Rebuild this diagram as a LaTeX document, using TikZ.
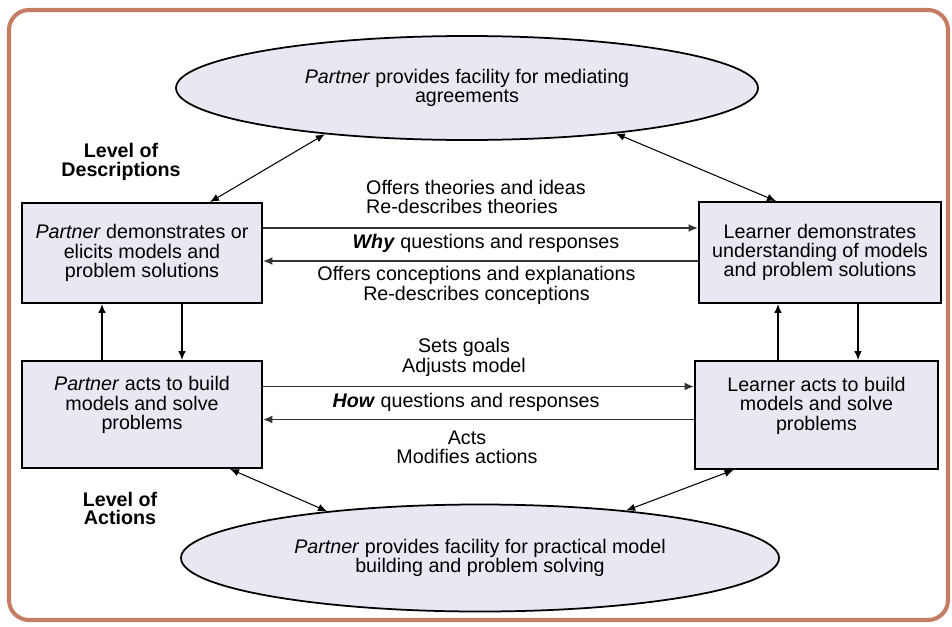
\documentclass[tikz,border=0pt]{standalone}
\usepackage{fontspec}
\setmainfont{Liberation Sans}
\usetikzlibrary{shapes.geometric,arrows.meta}

\definecolor{cornice}{RGB}{196,124,98}
\definecolor{riemp}{RGB}{232,232,243}

\tikzset{
  scatola/.style={draw,line width=1.1pt,fill=riemp,inner sep=0pt,align=center},
  ovale/.style={ellipse,draw,line width=1pt,fill=riemp,inner sep=0pt,align=center},
  freccia/.style={-{Latex[length=1.8mm,width=1.5mm]},line width=0.6pt},
  doppia/.style={{Latex[length=1.8mm,width=1.5mm]}-{Latex[length=1.8mm,width=1.5mm]},line width=0.6pt},
  flusso/.style={-{Latex[length=1.9mm,width=1.6mm]},line width=0.9pt,black!80},
}

\begin{document}
\begin{tikzpicture}[font=\fontsize{11.2}{11}\selectfont]

\useasboundingbox (0,0) rectangle (19.04,-12.52);
\draw[cornice,line width=2.3pt,rounded corners=0.4cm] (0.18,-0.2) rectangle (18.96,-12.4); % cornice

% ovali
\node[ovale,minimum width=11.64cm,minimum height=2.08cm] (sopra) at (9.34,-1.76)
  {\textit{Partner} provides facility for mediating\\agreements};
\node[ovale,minimum width=11.96cm,minimum height=2.14cm] (sotto) at (9.6,-11.16)
  {\textit{Partner} provides facility for practical model\\building and problem solving};

% scatole
\node[scatola,minimum width=4.8cm,minimum height=2cm] (pdesc) at (2.84,-5.06)
  {\textit{Partner} demonstrates or\\elicits models and\\problem solutions};
\node[scatola,minimum width=4.84cm,minimum height=2.02cm] (ldesc) at (16.4,-5.05)
  {Learner demonstrates\\understanding of models\\and problem solutions};
\node[scatola,minimum width=4.8cm,minimum height=2.14cm] (pact) at (2.84,-8.29)
  {\textit{Partner} acts to build\\models and solve\\problems\\[2pt]};
\node[scatola,minimum width=4.86cm,minimum height=2.16cm] (lact) at (16.33,-8.3)
  {Learner acts to build\\models and solve\\problems\\[2pt]};

% livelli
\node[font=\fontsize{11.2}{10.5}\selectfont\bfseries,align=center] (livd) at (2.42,-3.24) {Level of\\Descriptions};
\node[font=\fontsize{11.2}{10.5}\selectfont\bfseries,align=center] (liva) at (2.4,-10.17) {Level of\\Actions};

% verticali
\draw[freccia] ([xshift=-0.8cm]pact.north) -- ([xshift=-0.8cm]pdesc.south);
\draw[freccia] ([xshift=0.8cm]pdesc.south) -- ([xshift=0.8cm]pact.north);
\draw[freccia] ([xshift=-0.84cm]ldesc.south |- lact.north) -- ([xshift=-0.84cm]ldesc.south);
\draw[freccia] ([xshift=0.76cm]ldesc.south) -- ([xshift=0.76cm]ldesc.south |- lact.north);

% orizzontali
\draw[flusso] ([yshift=0.5cm]pdesc.east) -- ([yshift=0.5cm]pdesc.east -| ldesc.west);
\draw[flusso] ([yshift=-0.16cm]pdesc.east -| ldesc.west) -- ([yshift=-0.16cm]pdesc.east);
\draw[flusso] ([yshift=0.56cm]pact.east) -- ([yshift=0.56cm]pact.east -| lact.west);
\draw[flusso] ([yshift=-0.1cm]pact.east -| lact.west) -- ([yshift=-0.1cm]pact.east);

% ovali - scatole
\draw[doppia] (sopra.198) -- ([xshift=1.36cm]pdesc.north);
\draw[doppia] (sopra.343) -- ([xshift=-0.88cm]ldesc.north);
\draw[doppia] (sotto.163) -- ([xshift=1.76cm]pact.south);
\draw[doppia] (sotto.18) -- ([xshift=-1.66cm]lact.south);

% etichette
\node[anchor=west,align=left] (teorie) at (7.2,-3.94) {Offers theories and ideas\\Re-describes theories};
\node (why) at (9.72,-4.86) {\textbf{\textit{Why}} questions and responses};
\node[align=center] (conc) at (9.53,-5.71) {Offers conceptions and explanations\\Re-describes conceptions};
\node[align=center] (goals) at (9.28,-7.15) {Sets goals\\Adjusts model};
\node (how) at (9.32,-8.04) {\textbf{\textit{How}} questions and responses};
\node[align=center] (acts) at (9.34,-8.95) {Acts\\Modifies actions};

\end{tikzpicture}
\end{document}
